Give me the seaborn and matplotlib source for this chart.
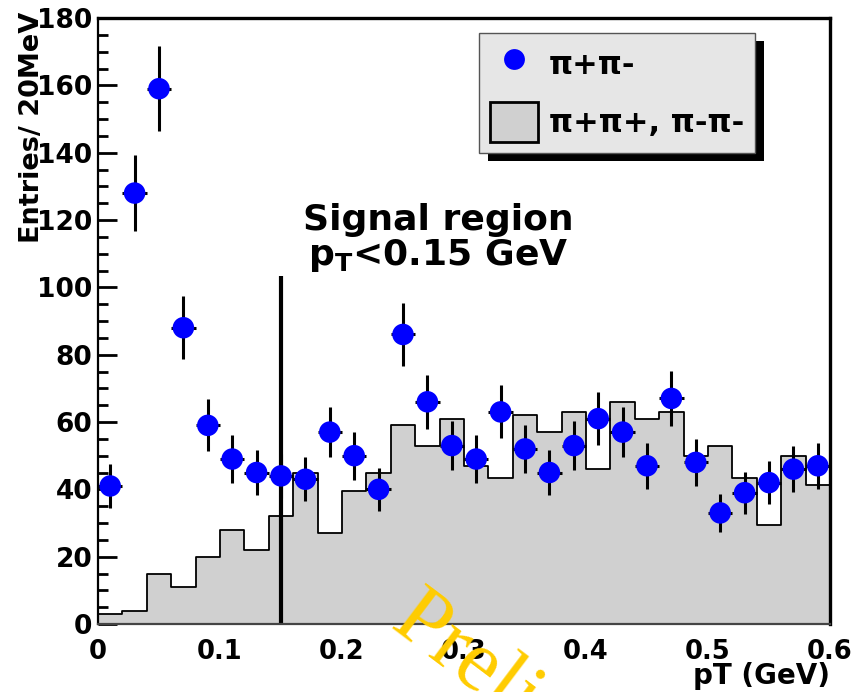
import numpy as np
import pandas as pd
import matplotlib
matplotlib.use("Agg")
import matplotlib.pyplot as plt
from matplotlib.patches import Rectangle, Patch
from matplotlib.lines import Line2D
from matplotlib.ticker import MultipleLocator
import seaborn as sns

# ---------------- data ----------------
bin_edges = [round(0.02 * i, 2) for i in range(31)]
bin_centers = [0.01, 0.03, 0.05, 0.07, 0.09, 0.11, 0.13, 0.15, 0.17, 0.19,
               0.21, 0.23, 0.25, 0.27, 0.29, 0.31, 0.33, 0.35, 0.37, 0.39,
               0.41, 0.43, 0.45, 0.47, 0.49, 0.51, 0.53, 0.55, 0.57, 0.59]
# pi+pi- (points)
signal_counts = [41, 128, 159, 88, 59, 49, 45, 44, 43, 57,
                 50, 40, 86, 66, 53, 49, 63, 52, 45, 53,
                 61, 57, 47, 67, 48, 33, 39, 42, 46, 47]
signal_err = [6.4, 11.3, 12.6, 9.4, 7.7, 7.0, 6.7, 6.6, 6.6, 7.5,
              7.1, 6.3, 9.3, 8.1, 7.3, 7.0, 7.9, 7.2, 6.7, 7.3,
              7.8, 7.5, 6.9, 8.2, 6.9, 5.7, 6.2, 6.5, 6.8, 6.9]
# pi+pi+, pi-pi- (grey histogram)
like_sign_counts = [3, 4, 15, 11, 20, 28, 22, 32, 45, 27,
                    39.5, 45, 59, 53, 61, 47, 43.5, 62, 57, 63,
                    46, 66, 61, 63, 50, 53, 43.3, 29.4, 50, 41.3]
signal_cut = 0.15
cut_line_top = 103.5
x_ticks = [0, 0.1, 0.2, 0.3, 0.4, 0.5, 0.6]
x_tick_labels = ["0", "0.1", "0.2", "0.3", "0.4", "0.5", "0.6"]
y_ticks = [0, 20, 40, 60, 80, 100, 120, 140, 160, 180]
y_tick_labels = ["0", "20", "40", "60", "80", "100", "120", "140", "160", "180"]
label_sig = "\u03c0+\u03c0-"
label_bkg = "\u03c0+\u03c0+, \u03c0-\u03c0-"

df_sig = pd.DataFrame({"pT": bin_centers, "N": signal_counts, "err": signal_err})
df_bkg = pd.DataFrame({"pT": bin_centers, "N": like_sign_counts})

# ---------------- style ----------------
sns.set_style("white")
plt.rcParams["font.family"] = ["DejaVu Sans"]
plt.rcParams["mathtext.fontset"] = "dejavusans"
for k in ["text.color", "axes.labelcolor", "xtick.color", "ytick.color"]:
    plt.rcParams[k] = "black"

W, H = 857, 692
fig = plt.figure(figsize=(W / 100, H / 100), dpi=100)
ax_l, ax_r, ax_t, ax_b = 98, 830, 18, 624
ax = fig.add_axes([ax_l / W, 1 - ax_b / H, (ax_r - ax_l) / W, (ax_b - ax_t) / H])

# background histogram
sns.histplot(data=df_bkg, x="pT", weights="N", bins=bin_edges, element="step",
             fill=True, color="#d0d0d0", edgecolor="black", alpha=1,
             linewidth=1.3, ax=ax, zorder=1)

# signal-region line
ax.plot([signal_cut, signal_cut], [0, cut_line_top], color="black", lw=3.0,
        zorder=3, solid_capstyle="butt")

# data points with error bars
ax.errorbar(df_sig["pT"], df_sig["N"], yerr=df_sig["err"], xerr=0.01,
            fmt="none", ecolor="black", elinewidth=2.2, capsize=0, zorder=4)
sns.scatterplot(data=df_sig, x="pT", y="N", color="#0000ff", s=240,
                edgecolor="none", ax=ax, zorder=5, legend=False)

# axes
ax.set_xlim(0, 0.6)
ax.set_ylim(0, 180)
ax.set_xticks(x_ticks)
ax.set_xticklabels(x_tick_labels)
ax.set_yticks(y_ticks)
ax.set_yticklabels(y_tick_labels)
ax.yaxis.set_minor_locator(MultipleLocator(5))
ax.tick_params(axis="y", which="major", direction="in", length=14, width=2.0,
               left=True, right=False, labelsize=19, pad=4, color="black",
               labelcolor="black")
ax.tick_params(axis="y", which="minor", direction="in", length=7, width=2.0,
               left=True, right=False, color="black")
ax.tick_params(axis="x", which="both", length=0, labelsize=18.5, pad=11,
               labelcolor="black")
for lab in ax.get_xticklabels() + ax.get_yticklabels():
    lab.set_fontweight("bold")
ax.set_xlabel("")
ax.set_ylabel("")
for side, lw, col in [("left", 1.6, "black"), ("bottom", 1.6, "#444444"),
                      ("top", 2.4, "black"), ("right", 2.4, "black")]:
    ax.spines[side].set_visible(True)
    ax.spines[side].set_linewidth(lw)
    ax.spines[side].set_color(col)
    ax.spines[side].set_zorder(6)

# axis titles
fig.text(830 / W, 1 - 676 / H, "pT (GeV)", ha="right", va="center",
         fontsize=20, fontweight="bold", color="black")
fig.text(32 / W, 1 - 12 / H, "Entries/ 20MeV", ha="center", va="top",
         rotation=90, fontsize=19.5, fontweight="bold", color="black")

# annotation
ax.text(0.2787, 117, "Signal region", ha="center", va="baseline",
        fontsize=26, fontweight="bold", zorder=7, color="black")
ax.text(0.2787, 106.5, r"$\mathbf{p_T}$<0.15 GeV", ha="center", va="baseline",
        fontsize=26, fontweight="bold", zorder=7, color="black")

# legend
fs_leg = 22
em = fs_leg * 100 / 72
handles = [Line2D([], [], marker="o", linestyle="none", color="#0000ff",
                  markersize=15, markeredgewidth=0),
           Patch(facecolor="#d0d0d0", edgecolor="black", linewidth=2.0)]
leg = ax.legend(handles, [label_sig, label_bkg], loc="upper left",
                bbox_to_anchor=((479 - ax_l) / (ax_r - ax_l), (ax_b - 33) / (ax_b - ax_t)),
                borderaxespad=0, frameon=True, fancybox=False,
                prop={"family": ["DejaVu Sans"], "weight": "bold", "size": fs_leg},
                handlelength=48 / em, handleheight=50 / em, handletextpad=11 / em,
                labelspacing=18 / em, borderpad=11 / em)
for t in leg.get_texts():
    t.set_color("black")
leg.get_frame().set_facecolor("#e6e6e6")
leg.get_frame().set_edgecolor("#555555")
leg.get_frame().set_linewidth(1.0)
leg.get_frame().set_alpha(1)
leg.set_zorder(10)

fig.canvas.draw()
bb = leg.get_window_extent().transformed(fig.transFigure.inverted())
off_x, off_y = 9 / W, 8 / H
shadow = Rectangle((bb.x0 + off_x, bb.y0 - off_y), bb.width, bb.height,
                   transform=fig.transFigure, facecolor="black",
                   edgecolor="none", zorder=9, clip_on=False)
ax.add_artist(shadow)

# watermark
fig.text(388 / W, 1 - 628 / H, "Preliminary", rotation=-37,
         rotation_mode="anchor", ha="left", va="baseline",
         fontsize=62, color="#ffcc00",
         family=["Liberation Serif", "DejaVu Serif"], zorder=20)

fig.savefig("out.png", dpi=100)
